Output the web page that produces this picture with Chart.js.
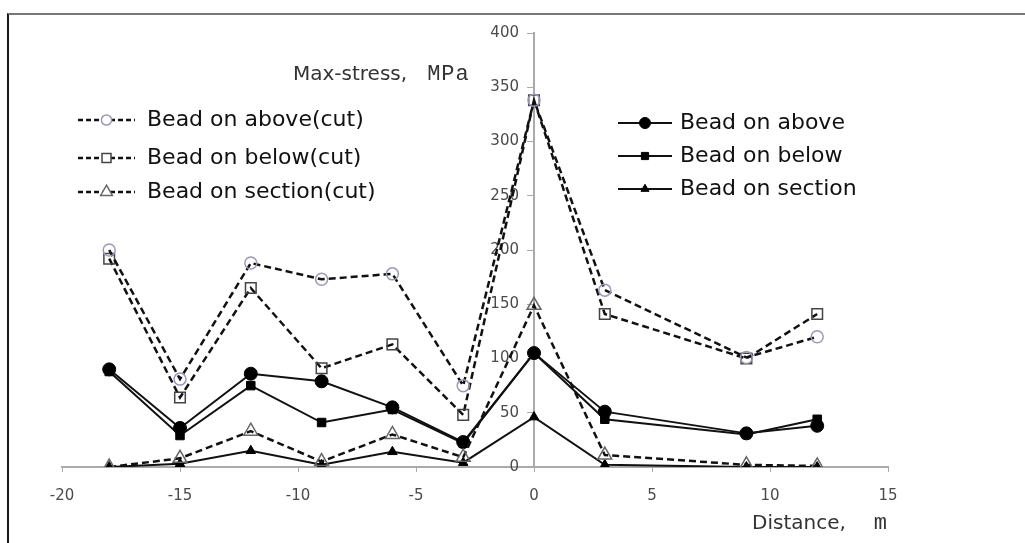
<!DOCTYPE html>
<html>
<head>
<meta charset="utf-8">
<script src="https://cdn.jsdelivr.net/npm/chart.js@4.4.1/dist/chart.umd.min.js"></script>
<style>
  html, body { margin: 0; padding: 0; background: #fff; }
  #wrap { position: relative; width: 1025px; height: 543px; overflow: hidden; }
  #frame { position: absolute; left: 7px; top: 13px; right: 0; bottom: 0;
           border-top: 2px solid #777; border-left: 2px solid #1a1a1a; pointer-events: none; }
  .ttl { position: absolute; font-family: "DejaVu Sans", sans-serif; font-size: 20px; color: #333; white-space: nowrap; }
  .ttl .u { font-family: "Liberation Mono", monospace; font-size: 22px; letter-spacing: 1px; }
</style>
</head>
<body>
<div id="wrap">
  <canvas id="stressChart" width="1025" height="543"></canvas>
  <div id="frame"></div>
  <div class="ttl" style="left:293px; top:61px;">Max-stress,<span class="u" style="margin-left:20px;">MPa</span></div>
  <div class="ttl" style="left:752px; top:510px;">Distance,<span class="u" style="margin-left:28px;">m</span></div>
</div>
<script>
// Distance along the weld, m
const distance = [-18, -15, -12, -9, -6, -3, 0, 3, 9, 12];

// Max stress, MPa
const aboveCut   = [200, 81, 188, 173, 178, 75, 338, 163, 101, 120];
const belowCut   = [192, 64, 165, 91, 113, 48, 338, 141, 100, 141];
const sectionCut = [0, 8, 33, 5, 30, 9, 149, 11, 2, 1];
const above      = [90, 36, 86, 79, 55, 23, 105, 51, 31, 38];
const below      = [88, 29, 75, 41, 53, 22, 105, 44, 30, 44];
const section    = [0, 3, 15, 2, 14, 4, 46, 2, 0, 0];

const xTicks = [-20, -15, -10, -5, 0, 5, 10, 15];
const yTicks = [0, 50, 100, 150, 200, 250, 300, 350, 400];

const toPoints = (vals) => vals.map((v, i) => ({ x: distance[i], y: v }));

const dashed = { borderColor: '#111', borderWidth: 2.5, borderDash: [7, 4], showLine: true };
const solid  = { borderColor: '#111', borderWidth: 2, showLine: true };

const datasets = [
    { ...dashed, label: 'Bead on above(cut)', data: toPoints(aboveCut),
      pointStyle: 'circle', pointRadius: 6, pointBorderWidth: 1.5,
      pointBorderColor: '#9a9ab8', pointBackgroundColor: 'rgba(255,255,255,0)' },
    { ...dashed, label: 'Bead on below(cut)', data: toPoints(belowCut),
      pointStyle: 'rect', pointRadius: 7.5, pointBorderWidth: 1.5,
      pointBorderColor: '#444', pointBackgroundColor: 'rgba(255,255,255,0)' },
    { ...dashed, label: 'Bead on section(cut)', data: toPoints(sectionCut),
      pointStyle: 'triangle', pointRadius: 8, pointBorderWidth: 1.5,
      pointBorderColor: '#666', pointBackgroundColor: 'rgba(255,255,255,0)' },
    { ...solid, label: 'Bead on above', data: toPoints(above),
      pointStyle: 'circle', pointRadius: 6.5, pointBorderWidth: 1,
      pointBorderColor: '#000', pointBackgroundColor: '#000' },
    { ...solid, label: 'Bead on below', data: toPoints(below),
      pointStyle: 'rect', pointRadius: 6, pointBorderWidth: 1,
      pointBorderColor: '#000', pointBackgroundColor: '#000' },
    { ...solid, label: 'Bead on section', data: toPoints(section),
      pointStyle: 'triangle', pointRadius: 5.5, pointBorderWidth: 1,
      pointBorderColor: '#000', pointBackgroundColor: '#000' }
];

// two legend blocks drawn inside the plot, like the original figure
const legendBlocks = [
    { x: 78,  w: 57, textX: 147, rows: [[0, 120], [1, 158], [2, 192]] },
    { x: 618, w: 54, textX: 680, rows: [[3, 123], [4, 156], [5, 189]] }
];

const splitLegend = {
    id: 'splitLegend',
    afterDraw(chart) {
        const ctx = chart.ctx;
        legendBlocks.forEach(block => {
            block.rows.forEach(([idx, y]) => {
                const ds = chart.data.datasets[idx];
                ctx.save();
                ctx.strokeStyle = ds.borderColor;
                ctx.lineWidth = ds.borderWidth;
                ctx.setLineDash(ds.borderDash ? [5, 3] : []);
                ctx.beginPath();
                ctx.moveTo(block.x, y);
                ctx.lineTo(block.x + block.w, y);
                ctx.stroke();
                ctx.setLineDash([]);
                ctx.fillStyle = ds.pointBackgroundColor === '#000' ? '#000' : '#fff';
                ctx.strokeStyle = ds.pointBorderColor;
                ctx.lineWidth = ds.pointBorderWidth;
                Chart.helpers.drawPoint(ctx, {
                    pointStyle: ds.pointStyle,
                    radius: ds.pointRadius * 0.85,
                    borderWidth: ds.pointBorderWidth
                }, block.x + block.w / 2, y);
                ctx.fillStyle = '#111';
                ctx.font = '22px "DejaVu Sans", sans-serif';
                ctx.textBaseline = 'middle';
                ctx.textAlign = 'left';
                ctx.fillText(ds.label, block.textX, y);
                ctx.restore();
            });
        });
    }
};

const axisColor = '#aaa';
const tickFont = { family: '"DejaVu Sans", sans-serif', size: 15 };

new Chart(document.getElementById('stressChart'), {
    type: 'scatter',
    data: { datasets },
    plugins: [splitLegend],
    options: {
        responsive: false,
        animation: false,
        devicePixelRatio: 1,
        layout: { padding: { left: 62, right: 137, top: 33, bottom: 76 } },
        plugins: { legend: { display: false }, tooltip: { enabled: false } },
        scales: {
            x: {
                type: 'linear',
                position: { y: 0 },
                min: xTicks[0], max: xTicks[xTicks.length - 1],
                afterBuildTicks: s => { s.ticks = xTicks.map(v => ({ value: v })); },
                afterFit: s => { s.height = 0; },
                border: { color: axisColor, width: 2 },
                grid: { drawOnChartArea: false, color: axisColor, tickLength: 4 },
                ticks: { color: '#4a4a4a', font: tickFont, padding: 16 }
            },
            y: {
                type: 'linear',
                position: { x: 0 },
                min: yTicks[0], max: yTicks[yTicks.length - 1],
                afterBuildTicks: s => { s.ticks = yTicks.map(v => ({ value: v })); },
                afterFit: s => { s.width = 0; },
                border: { color: axisColor, width: 2 },
                grid: { drawOnChartArea: false, color: axisColor, tickLength: 6 },
                // labels sit left of the axis line; en-spaces push them off the line
                ticks: { color: '#4a4a4a', font: tickFont, callback: v => v + '\u2002\u2002' }
            }
        }
    }
});
</script>
</body>
</html>
